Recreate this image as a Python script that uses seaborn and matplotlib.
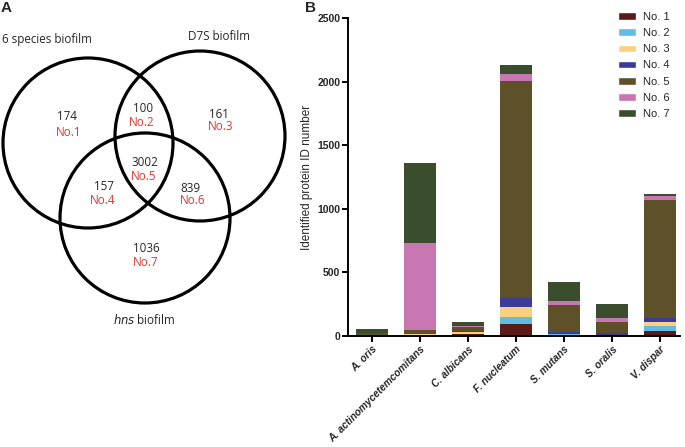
import numpy as np
import pandas as pd
import matplotlib
matplotlib.use("Agg")
import matplotlib.pyplot as plt
from matplotlib.patches import Circle, Patch
import seaborn as sns

# data
species = ["A. oris", "A. actinomycetemcomitans", "C. albicans", "F. nucleatum",
           "S. mutans", "S. oralis", "V. dispar"]
groups = ["No. 1", "No. 2", "No. 3", "No. 4", "No. 5", "No. 6", "No. 7"]
no1 = [2, 3, 13, 92, 5, 5, 39]
no2 = [1, 2, 3, 55, 10, 3, 37]
no3 = [2, 10, 16, 79, 3, 2, 34]
no4 = [1, 2, 5, 73, 13, 16, 31]
no5 = [18, 28, 34, 1706, 212, 84, 927]
no6 = [2, 686, 10, 52, 34, 31, 29]
no7 = [30, 629, 29, 71, 149, 110, 21]
colors = ["#5a1a18", "#5fbde3", "#fbd07e", "#3c3c98", "#5e5129", "#c877b2", "#3a4d2c"]

venn_counts = [174, 100, 161, 157, 3002, 839, 1036]
venn_labels = ["No.1", "No.2", "No.3", "No.4", "No.5", "No.6", "No.7"]

sns.set_style("white")
plt.rcParams["font.family"] = ["Liberation Sans", "DejaVu Sans"]

fig = plt.figure(figsize=(6.85, 4.47), dpi=100)

# ---- panel A: venn, drawn in pixel coordinates ----
ov = fig.add_axes([0, 0, 1, 1])
ov.set_xlim(0, 685)
ov.set_ylim(447, 0)
ov.axis("off")
for cx, cy in [(88, 143), (200, 136), (145, 218)]:
    ov.add_patch(Circle((cx, cy), 85, fill=False, lw=2.3, ec="black"))

vfont = ["Open Sans", "DejaVu Sans"]
num_pos = [(67, 116), (143, 109), (219, 114), (104, 187), (145, 163), (190, 188), (146, 248)]
lab_pos = [(69, 133), (142, 122), (221, 127), (103, 200), (144, 177), (193, 201), (146, 262)]
for n, lab, (nx, ny), (lx, ly) in zip(venn_counts, venn_labels, num_pos, lab_pos):
    ov.text(nx, ny, str(n), ha="center", va="center", fontsize=8.4, family=vfont)
    ov.text(lx, ly, lab, ha="center", va="center", fontsize=8.4, family=vfont, color="#d9372f")
ov.text(2, 39, "6 species biofilm", ha="left", va="center", fontsize=8.4, family=vfont)
ov.text(219, 37, "D7S biofilm", ha="center", va="center", fontsize=8.4, family=vfont)
ov.text(144, 320, r"$\it{hns}$ biofilm", ha="center", va="center", fontsize=8.4, family=vfont)
ov.text(1, 8, "A", ha="left", va="center", fontsize=11, fontweight="bold")
ov.text(305, 8, "B", ha="left", va="center", fontsize=11, fontweight="bold")

# ---- panel B: stacked bars ----
ax = fig.add_axes([348 / 685, 111 / 447, 332 / 685, 318 / 447])
ax.patch.set_alpha(0)
df = pd.DataFrame({"species": species, "No. 1": no1, "No. 2": no2, "No. 3": no3,
                   "No. 4": no4, "No. 5": no5, "No. 6": no6, "No. 7": no7})
cum = df[groups].cumsum(axis=1)
for g, c in zip(groups[::-1], colors[::-1]):
    sns.barplot(x=df["species"], y=cum[g], color=c, saturation=1, width=0.67,
                order=species, ax=ax, linewidth=0)

ax.set_ylim(0, 2500)
ax.set_xlim(-0.5, 6.42)
ax.set_yticks([0, 500, 1000, 1500, 2000, 2500])
ax.set_xlabel("")
ax.set_ylabel("Identified protein ID number", fontsize=8.5, labelpad=3)
sns.despine(ax=ax)
for s in ["left", "bottom"]:
    ax.spines[s].set_linewidth(1.4)
    ax.spines[s].set_color("black")
ax.tick_params(axis="both", direction="out", length=4, width=1.4, color="black",
               left=True, bottom=True)
ax.tick_params(axis="y", pad=1.5)
ax.tick_params(axis="x", pad=2)
for t in ax.get_yticklabels():
    t.set_fontsize(7.5)
    t.set_fontweight("bold")
ax.set_xticks(range(len(species)))
ax.set_xticklabels(species, rotation=45, ha="right", rotation_mode="anchor",
                   fontsize=7.3, fontweight="bold", fontstyle="italic")

handles = [Patch(facecolor=c, label=g) for g, c in zip(groups, colors)]
ax.legend(handles=handles, loc="upper right", bbox_to_anchor=(1.0, 1.05), frameon=False,
          fontsize=8, handlelength=1.6, handleheight=0.7, labelspacing=0.55,
          handletextpad=0.7)

fig.savefig("out.png", dpi=100)
